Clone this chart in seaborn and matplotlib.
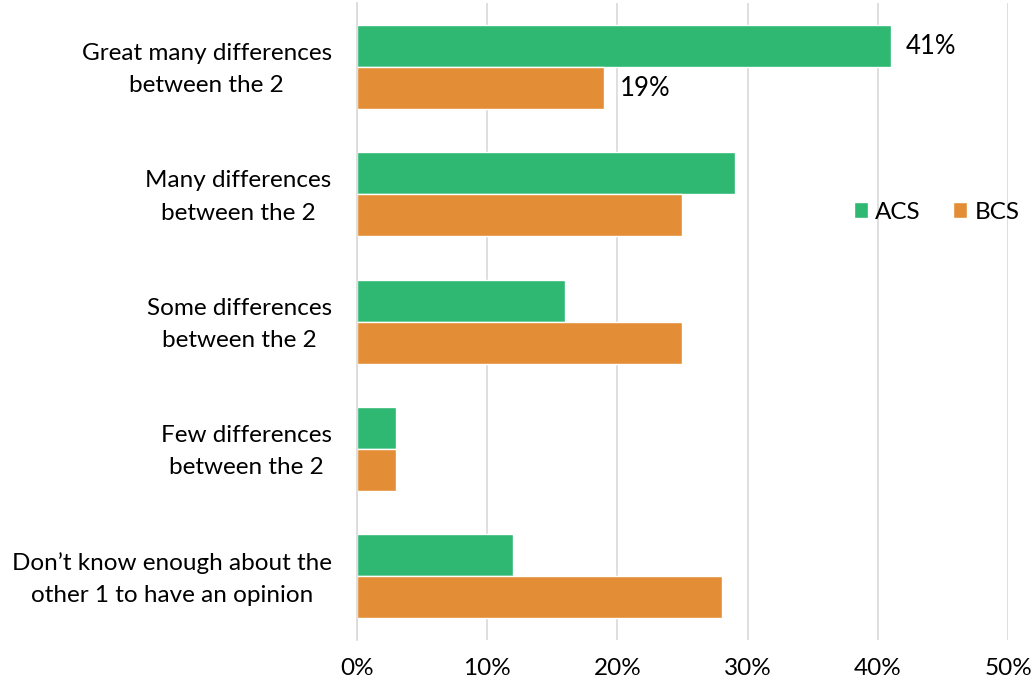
import matplotlib
matplotlib.use("Agg")
import matplotlib.pyplot as plt
import matplotlib.transforms as mtransforms
import seaborn as sns
import pandas as pd
from matplotlib.ticker import FuncFormatter

categories = [
    "Great many differences\nbetween the 2",
    "Many differences\nbetween the 2",
    "Some differences\nbetween the 2",
    "Few differences\nbetween the 2",
    "Don\u2019t know enough about the\nother 1 to have an opinion",
]
acs = [41, 29, 16, 3, 12]
bcs = [19, 25, 25, 3, 28]
series = ["ACS", "BCS"]
colors = ["#2EB872", "#E38E36"]
xticks = [0, 10, 20, 30, 40, 50]

df = pd.DataFrame({
    "category": categories * 2,
    "value": acs + bcs,
    "series": ["ACS"] * len(categories) + ["BCS"] * len(categories),
})

sns.set_style("white")
plt.rcParams["font.family"] = ["Lato", "DejaVu Sans"]
plt.rcParams["text.color"] = "black"
plt.rcParams["xtick.color"] = "black"
plt.rcParams["ytick.color"] = "black"

fig, ax = plt.subplots(figsize=(10.34, 6.88), dpi=100)
fig.subplots_adjust(left=0.345, right=0.975, top=0.995, bottom=0.07)

sns.barplot(data=df, y="category", x="value", hue="series", order=categories,
            hue_order=series, palette=colors, width=0.66, orient="h", ax=ax,
            saturation=1, errorbar=None)

ax.set_xlim(0, 50)
ax.set_xticks(xticks)
ax.xaxis.set_major_formatter(FuncFormatter(lambda v, p: f"{int(v)}%"))
ax.grid(axis="x", color="#D9D9D9", linewidth=1.2)
ax.set_axisbelow(True)
for s in ["top", "right", "bottom"]:
    ax.spines[s].set_visible(False)
ax.spines["left"].set_color("#D9D9D9")
ax.spines["left"].set_linewidth(1.2)
ax.tick_params(axis="x", length=0, pad=13, labelsize=17.5, labelcolor="black")
ax.tick_params(axis="y", length=0, pad=18, labelsize=17.5, labelcolor="black")
ax.set_yticks(range(len(categories)))
ax.set_yticklabels(categories, ha="right", multialignment="center", linespacing=1.65)
shift = mtransforms.ScaledTranslation(0, 3.5 / 72, fig.dpi_scale_trans)
for lab in ax.get_yticklabels():
    lab.set_transform(lab.get_transform() + shift)
ax.set_xlabel("")
ax.set_ylabel("")

# data labels on first group only
for cont in ax.containers:
    bar = cont.patches[0]
    ax.annotate(f"{int(bar.get_width())}%", (bar.get_width(), bar.get_y() + bar.get_height() / 2),
                xytext=(11, 0), textcoords="offset points", va="center", ha="left", fontsize=18.5)

ax.legend(loc="center", bbox_to_anchor=(0.89, 0.672), ncol=2, frameon=False, fontsize=17.5,
          handlelength=0.6, handleheight=0.6, handletextpad=0.3, columnspacing=1.3)

fig.savefig("out.png", dpi=100, facecolor="white")
